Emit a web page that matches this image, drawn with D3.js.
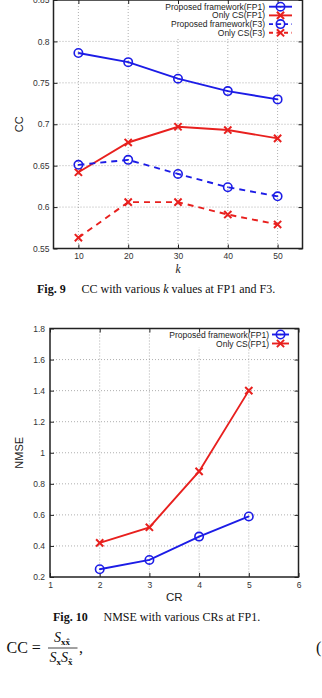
<!DOCTYPE html>
<html>
<head>
<meta charset="utf-8">
<script src="https://cdn.jsdelivr.net/npm/d3@7"></script>
<style>
  body { margin: 0; background: #fff; }
  svg { display: block; }
</style>
</head>
<body>
<script>
// ---- data ----
const kValues = [10, 20, 30, 40, 50];
const ccProposedFP1 = [0.786, 0.775, 0.755, 0.740, 0.730];
const ccOnlyCsFP1   = [0.642, 0.678, 0.697, 0.693, 0.683];
const ccProposedF3  = [0.651, 0.657, 0.640, 0.624, 0.613];
const ccOnlyCsF3    = [0.563, 0.606, 0.606, 0.591, 0.579];
const ccTicks = [0.55, 0.6, 0.65, 0.7, 0.75, 0.8, 0.85];
const kTicks = [10, 20, 30, 40, 50];

const crValues = [2, 3, 4, 5];
const nmseProposedFP1 = [0.25, 0.31, 0.46, 0.59];
const nmseOnlyCsFP1   = [0.42, 0.52, 0.88, 1.40];
const nmseTicks = [0.2, 0.4, 0.6, 0.8, 1, 1.2, 1.4, 1.6, 1.8];
const crTicks = [1, 2, 3, 4, 5, 6];

const blue = "#1c1ce6", red = "#e8201e";
const sans = "'Liberation Sans', Arial, sans-serif";
const serif = "'Liberation Serif', 'Times New Roman', serif";

const svg = d3.select("body").append("svg")
  .attr("width", 322)
  .attr("height", 698);

// draws one gnuplot-like panel
function drawChart(o) {
  const x = d3.scaleLinear().domain(o.xDomain).range([o.left, o.right]);
  const y = d3.scaleLinear().domain(o.yDomain).range([o.bottom, o.top]);
  const g = svg.append("g");

  // grid
  g.selectAll(".gx").data(o.xTicks.filter(d => d > o.xDomain[0] && d < o.xDomain[1]))
    .enter().append("line")
    .attr("x1", d => x(d)).attr("x2", d => x(d))
    .attr("y1", o.top).attr("y2", o.bottom)
    .attr("stroke", "#9a9a9a").attr("stroke-width", 0.8)
    .attr("stroke-dasharray", "1,2");
  g.selectAll(".gy").data(o.yTicks.filter(d => d > o.yDomain[0] && d < o.yDomain[1]))
    .enter().append("line")
    .attr("x1", o.left).attr("x2", o.right)
    .attr("y1", d => y(d)).attr("y2", d => y(d))
    .attr("stroke", "#9a9a9a").attr("stroke-width", 0.8)
    .attr("stroke-dasharray", "1,2");

  // legend background hides the grid
  g.append("rect")
    .attr("x", o.legendBox[0]).attr("y", o.legendBox[1])
    .attr("width", o.legendBox[2]).attr("height", o.legendBox[3])
    .attr("fill", "#fff");

  // axes (inward ticks, mirrored)
  const fmt = d3.format("~g");
  const axL = g.append("g").attr("transform", `translate(${o.left},0)`)
    .call(d3.axisLeft(y).tickValues(o.yTicks).tickFormat(fmt).tickSize(-4).tickPadding(o.yPad));
  const axR = g.append("g").attr("transform", `translate(${o.right},0)`)
    .call(d3.axisRight(y).tickValues(o.yTicks).tickFormat("").tickSize(-4));
  const axB = g.append("g").attr("transform", `translate(0,${o.bottom})`)
    .call(d3.axisBottom(x).tickValues(o.xTicks).tickFormat(fmt).tickSize(-4).tickPadding(4.5));
  const axT = g.append("g").attr("transform", `translate(0,${o.top})`)
    .call(d3.axisTop(x).tickValues(o.xTicks).tickFormat("").tickSize(-4));
  [axL, axR, axB, axT].forEach(a => {
    a.select(".domain").remove();
    a.selectAll("line").attr("stroke", "#222").attr("stroke-width", 1);
    a.selectAll("text").attr("font-family", sans).attr("font-size", 8.5).attr("fill", "#333");
  });

  g.append("rect")
    .attr("x", o.left).attr("y", o.top)
    .attr("width", o.right - o.left).attr("height", o.bottom - o.top)
    .attr("fill", "none").attr("stroke", "#222").attr("stroke-width", 1.5);

  // series
  const line = d3.line().x(d => x(d[0])).y(d => y(d[1]));
  o.series.forEach(s => {
    const pts = o.xValues.map((v, i) => [v, s.values[i]]);
    g.append("path").datum(pts)
      .attr("d", line).attr("fill", "none")
      .attr("stroke", s.color).attr("stroke-width", 1.9)
      .attr("stroke-dasharray", s.dash ? "6,5" : null);
    pts.forEach(p => drawMarker(g, x(p[0]), y(p[1]), s));
  });

  // legend
  o.series.forEach((s, i) => {
    const ly = o.legendY + i * o.legendStep;
    g.append("text").attr("x", o.legendTextX).attr("y", ly)
      .attr("text-anchor", "end").attr("dominant-baseline", "central")
      .attr("font-family", sans).attr("font-size", 8.5).attr("fill", "#222")
      .text(s.name);
    g.append("line")
      .attr("x1", o.legendLine[0]).attr("x2", o.legendLine[1])
      .attr("y1", ly).attr("y2", ly)
      .attr("stroke", s.color).attr("stroke-width", 1.9)
      .attr("stroke-dasharray", s.dash ? "4,3.5" : null);
    drawMarker(g, (o.legendLine[0] + o.legendLine[1]) / 2, ly, s);
  });

  // axis titles
  g.append("text")
    .attr("transform", `translate(${o.yLabelX},${(o.top + o.bottom) / 2}) rotate(-90)`)
    .attr("text-anchor", "middle").attr("dominant-baseline", "central")
    .attr("font-family", sans).attr("font-size", 11).attr("fill", "#222")
    .text(o.yLabel);
  g.append("text")
    .attr("x", (o.left + o.right) / 2).attr("y", o.xLabelY)
    .attr("text-anchor", "middle").attr("dominant-baseline", "central")
    .attr("font-family", o.xLabelItalic ? serif : sans)
    .attr("font-style", o.xLabelItalic ? "italic" : null)
    .attr("font-size", 11.5).attr("fill", "#222")
    .text(o.xLabel);
}

function drawMarker(g, cx, cy, s) {
  if (s.marker === "circle") {
    g.append("circle").attr("cx", cx).attr("cy", cy).attr("r", 4.2)
      .attr("fill", "none").attr("stroke", s.color).attr("stroke-width", 1.6);
    g.append("circle").attr("cx", cx).attr("cy", cy).attr("r", 0.8).attr("fill", s.color);
  } else {
    g.append("path")
      .attr("d", `M${cx - 3.6},${cy - 3.6}L${cx + 3.6},${cy + 3.6}M${cx - 3.6},${cy + 3.6}L${cx + 3.6},${cy - 3.6}`)
      .attr("stroke", s.color).attr("stroke-width", 2).attr("fill", "none");
  }
}

// Fig. 9
drawChart({
  left: 53.5, right: 302.5, top: 0, bottom: 248.5,
  xDomain: [5, 55], yDomain: [0.55, 0.85],
  xTicks: kTicks, yTicks: ccTicks, yPad: 4,
  xValues: kValues,
  series: [
    {name: "Proposed framework(FP1)", values: ccProposedFP1, color: blue, marker: "circle"},
    {name: "Only CS(FP1)", values: ccOnlyCsFP1, color: red, marker: "cross"},
    {name: "Proposed framework(F3)", values: ccProposedF3, color: blue, marker: "circle", dash: true},
    {name: "Only CS(F3)", values: ccOnlyCsF3, color: red, marker: "cross", dash: true}
  ],
  legendBox: [162, 1, 139, 36], legendTextX: 265, legendLine: [269, 292],
  legendY: 6.7, legendStep: 8.7,
  yLabel: "CC", yLabelX: 18.5,
  xLabel: "k", xLabelItalic: true, xLabelY: 268.5
});

// Fig. 10
drawChart({
  left: 50, right: 298.5, top: 328.5, bottom: 577,
  xDomain: [1, 6], yDomain: [0.2, 1.8],
  xTicks: crTicks, yTicks: nmseTicks, yPad: 5,
  xValues: crValues,
  series: [
    {name: "Proposed framework(FP1)", values: nmseProposedFP1, color: blue, marker: "circle"},
    {name: "Only CS(FP1)", values: nmseOnlyCsFP1, color: red, marker: "cross"}
  ],
  legendBox: [150, 329.5, 147, 18], legendTextX: 269, legendLine: [272, 289],
  legendY: 334.5, legendStep: 9,
  yLabel: "NMSE", yLabelX: 19,
  xLabel: "CR", xLabelItalic: false, xLabelY: 597
});

// captions
function caption(yy, figX, fig, textX, parts) {
  svg.append("text").attr("x", figX).attr("y", yy)
    .attr("font-family", serif).attr("font-size", 12).attr("font-weight", "bold")
    .attr("fill", "#111").text(fig);
  const t = svg.append("text").attr("x", textX).attr("y", yy)
    .attr("font-family", serif).attr("font-size", 12).attr("fill", "#111");
  parts.forEach(p => t.append("tspan").attr("font-style", p.i ? "italic" : null).text(p.t));
}
caption(293, 37, "Fig. 9", 81.5, [{t: "CC with various "}, {t: "k", i: true}, {t: " values at FP1 and F3."}]);
caption(621, 53, "Fig. 10", 103.5, [{t: "NMSE with various CRs at FP1."}]);

// equation
const eq = svg.append("g").attr("font-family", serif).attr("fill", "#111");
eq.append("text").attr("x", 6.5).attr("y", 653).attr("font-size", 16).text("CC =");
const num = eq.append("text").attr("x", 54).attr("y", 642).attr("font-size", 14);
num.append("tspan").attr("font-style", "italic").text("S");
num.append("tspan").attr("font-size", 9).attr("font-weight", "bold").attr("dy", 2.5).text("x\u0078\u0302");
eq.append("line").attr("x1", 48).attr("x2", 77.5).attr("y1", 648).attr("y2", 648)
  .attr("stroke", "#111").attr("stroke-width", 0.8);
const den = eq.append("text").attr("x", 49.5).attr("y", 662).attr("font-size", 14);
den.append("tspan").attr("font-style", "italic").text("S");
den.append("tspan").attr("font-size", 9).attr("font-weight", "bold").attr("dy", 2.5).text("x");
den.append("tspan").attr("font-style", "italic").attr("dy", -2.5).text("S");
den.append("tspan").attr("font-size", 9).attr("font-weight", "bold").attr("dy", 2.5).text("x\u0302");
eq.append("text").attr("x", 79).attr("y", 653).attr("font-size", 16).text(",");
eq.append("text").attr("x", 316).attr("y", 653).attr("font-size", 16).text("(");
</script>
</body>
</html>
